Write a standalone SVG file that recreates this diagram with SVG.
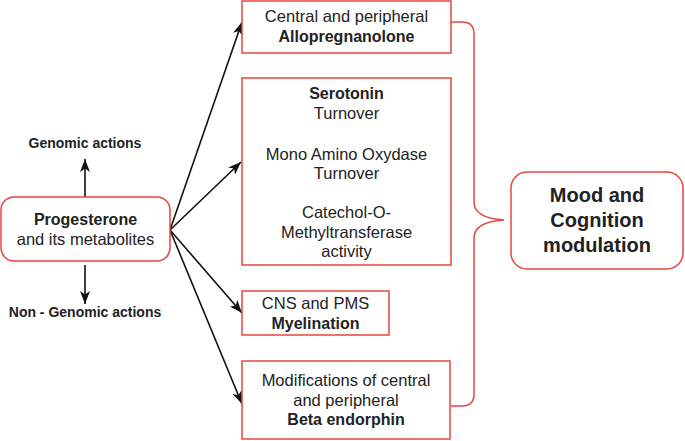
<svg xmlns="http://www.w3.org/2000/svg" width="685" height="441" viewBox="0 0 685 441">
<style>
.box{fill:#fff;stroke:#e8453c;stroke-width:1.5}
.t{font-family:"Liberation Sans",Arial,sans-serif;font-size:16.5px;fill:#222;text-anchor:middle}
.b{font-weight:bold;font-size:16px}
.s{font-size:14px}
.m{font-size:20px}
.c{stroke:#111;stroke-width:1.6;fill:none;marker-end:url(#ah)}
.br{stroke:#e8453c;stroke-width:1.5;fill:none}
</style>
<defs>
<marker id="ah" markerUnits="userSpaceOnUse" markerWidth="14" markerHeight="10" refX="13" refY="5" orient="auto">
<path d="M0,0 L13,5 L0,10 L3.5,5 Z" fill="#111"/>
</marker>
</defs>
<g id="connectors">
<line class="c" x1="85" y1="197" x2="85" y2="159"/>
<line class="c" x1="85" y1="265" x2="85" y2="304"/>
<line class="c" x1="170" y1="230" x2="242" y2="22"/>
<line class="c" x1="170" y1="230" x2="241" y2="162"/>
<line class="c" x1="170" y1="230" x2="242" y2="313"/>
<line class="c" x1="170" y1="230" x2="242" y2="404"/>
<path class="br" d="M451,22 L462,22 Q474,22 474,34 L474,202 Q474,218 504,220 Q474,222 474,238 L474,394 Q474,406 462,406 L451,406"/>
</g>
<g id="genomic">
<text class="t b s" x="85" y="148">Genomic actions</text>
</g>
<g id="nongenomic">
<text class="t b s" x="85" y="317">Non - Genomic actions</text>
</g>
<g id="progesterone">
<rect class="box" x="1" y="197" width="169" height="64" rx="13"/>
<text class="t b" x="85.5" y="225">Progesterone</text>
<text class="t" x="85.5" y="245">and its metabolites</text>
</g>
<g id="allopregnanolone">
<rect class="box" x="242" y="1" width="209" height="52"/>
<text class="t" x="346.5" y="22">Central and peripheral</text>
<text class="t b" x="346.5" y="42">Allopregnanolone</text>
</g>
<g id="serotonin">
<rect class="box" x="242" y="78" width="209" height="187"/>
<text class="t b" x="346.5" y="99">Serotonin</text>
<text class="t" x="346.5" y="119">Turnover</text>
<text class="t" x="346.5" y="160">Mono Amino Oxydase</text>
<text class="t" x="346.5" y="179">Turnover</text>
<text class="t" x="346.5" y="218">Catechol-O-</text>
<text class="t" x="346.5" y="238">Methyltransferase</text>
<text class="t" x="346.5" y="257">activity</text>
</g>
<g id="myelination">
<rect class="box" x="242" y="291" width="147" height="44"/>
<text class="t" x="315.5" y="309">CNS and PMS</text>
<text class="t b" x="315.5" y="329">Myelination</text>
</g>
<g id="betaendorphin">
<rect class="box" x="242" y="361" width="208" height="78"/>
<text class="t" x="346" y="386">Modifications of central</text>
<text class="t" x="346" y="406">and peripheral</text>
<text class="t b" x="346" y="425">Beta endorphin</text>
</g>
<g id="mood">
<rect class="box" x="511" y="172" width="172" height="97" rx="16"/>
<text class="t b m" x="597" y="202">Mood and</text>
<text class="t b m" x="597" y="227">Cognition</text>
<text class="t b m" x="597" y="252">modulation</text>
</g>
</svg>
